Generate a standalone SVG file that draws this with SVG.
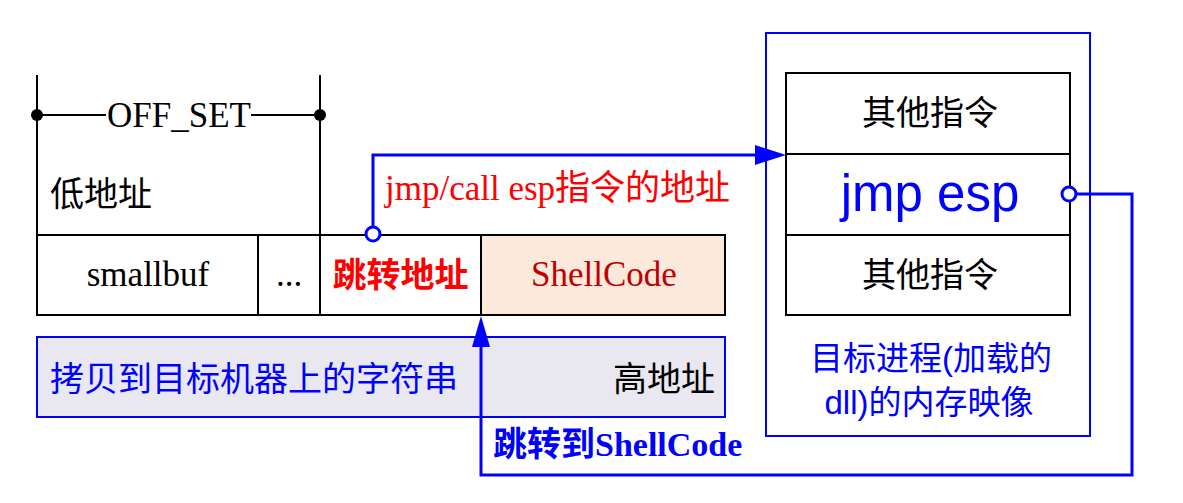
<svg xmlns="http://www.w3.org/2000/svg" width="1183" height="503" viewBox="0 0 1183 503">
<style>
.blk{fill:none;stroke:#000;stroke-width:2}
.cell{fill:#fff;stroke:#000;stroke-width:2}
.serif{font-family:"Liberation Serif","Noto Sans CJK SC",serif;font-size:35px}
.cjk{font-family:"Liberation Serif","Noto Sans CJK SC",serif;font-size:34px}
.sans{font-family:"Liberation Sans","Noto Sans CJK SC",sans-serif}
.conn{fill:none;stroke:#0000ff;stroke-width:3}
</style>
<rect width="1183" height="503" fill="#fff"/>

<g id="offset">
<line class="blk" x1="37" y1="75" x2="37" y2="235"/>
<line class="blk" x1="320" y1="75" x2="320" y2="235"/>
<line class="blk" x1="37" y1="115" x2="106" y2="115"/>
<line class="blk" x1="251" y1="115" x2="320" y2="115"/>
<circle cx="37" cy="115" r="6" fill="#000"/>
<circle cx="320" cy="115" r="6" fill="#000"/>
<text class="serif" x="179" y="127" text-anchor="middle">OFF_SET</text>
<text class="cjk" x="50" y="206">低地址</text>
</g>

<g id="smallbuf">
<rect class="cell" x="37" y="235" width="221" height="80"/>
<text class="serif" x="148" y="286" text-anchor="middle">smallbuf</text>
</g>
<g id="dots">
<rect class="cell" x="258" y="235" width="62" height="80"/>
<text class="serif" x="289" y="286" text-anchor="middle">...</text>
</g>
<g id="jumpaddr">
<rect class="cell" x="320" y="235" width="161" height="80"/>
<text class="cjk" x="400.5" y="287" text-anchor="middle" font-weight="bold" fill="#ff0000">跳转地址</text>
</g>
<g id="shellcode">
<rect x="481" y="235" width="244" height="80" fill="#fbe9dc" stroke="#000" stroke-width="2"/>
<text class="serif" x="604" y="286" text-anchor="middle" fill="#c00000">ShellCode</text>
</g>

<g id="copystring">
<rect x="37" y="337" width="688" height="80" fill="#e9e8f1" stroke="#0000ff" stroke-width="2"/>
<text class="cjk" x="50" y="391" fill="#0000ff">拷贝到目标机器上的字符串</text>
<text class="cjk" x="715" y="391" text-anchor="end">高地址</text>
</g>

<g id="process">
<rect x="766" y="33" width="324" height="403" fill="none" stroke="#0000ff" stroke-width="2"/>
<text class="sans" x="931" y="370" text-anchor="middle" font-size="33" fill="#0000ff">目标进程(加载的</text>
<text class="sans" x="929" y="414" text-anchor="middle" font-size="33" fill="#0000ff">dll)的内存映像</text>
</g>
<g id="instr1">
<rect class="cell" x="786" y="73" width="284" height="81"/>
<text class="cjk" x="930" y="125" text-anchor="middle">其他指令</text>
</g>
<g id="jmpesp">
<rect class="cell" x="786" y="154" width="284" height="81"/>
<text class="sans" x="930" y="211" text-anchor="middle" font-size="51" fill="#0000ff">jmp esp</text>
</g>
<g id="instr2">
<rect class="cell" x="786" y="235" width="284" height="80"/>
<text class="cjk" x="930" y="287" text-anchor="middle">其他指令</text>
</g>

<g id="connectors">
<path class="conn" d="M373,227 L373,155 L755,155"/>
<path d="M755,145 L786,155 L755,165 Z" fill="#0000ff"/>
<circle cx="373" cy="234" r="7" fill="#fff" stroke="#0000ff" stroke-width="3"/>
<text class="serif" x="385" y="200" fill="#ff0000">jmp/call esp指令的地址</text>

<path class="conn" d="M1076,194 L1132,194 L1132,475 L481,475 L481,345"/>
<path d="M472,347 L481,316 L490,347 Z" fill="#0000ff"/>
<circle cx="1069" cy="194" r="7" fill="#fff" stroke="#0000ff" stroke-width="3"/>
<text class="cjk" x="493" y="456" font-size="31" font-weight="bold" fill="#0000ff">跳转到ShellCode</text>
</g>
</svg>
